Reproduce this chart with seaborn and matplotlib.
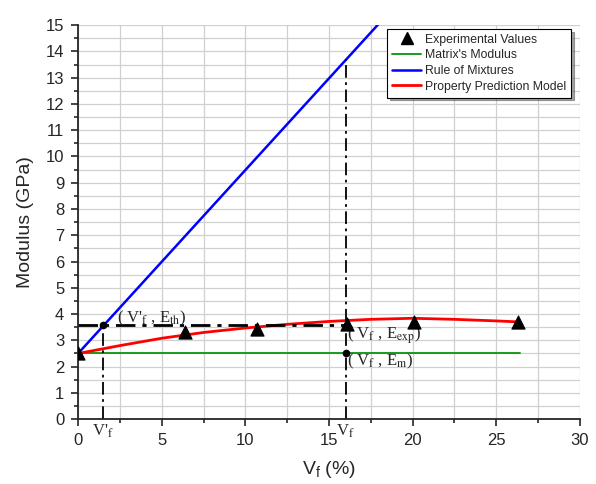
"""
Modulus vs fibre volume fraction: experiment, rule of mixtures and prediction model
"""
# %% IMPORT LIBRARIES
import numpy as np
import pandas as pd
import matplotlib
matplotlib.use("Agg")
import matplotlib.pyplot as plt
from matplotlib.lines import Line2D
from matplotlib.ticker import MultipleLocator
import seaborn as sns

sns.set_style("ticks")
plt.rcParams['font.family'] = ['Liberation Sans', 'DejaVu Sans']
plt.rcParams['mathtext.fontset'] = 'custom'
plt.rcParams['mathtext.rm'] = 'Liberation Sans'
plt.rcParams['mathtext.it'] = 'Liberation Sans:italic'

# %% DATA
# experimental values
vf_exp = [0, 6.4, 10.7, 16.1, 20.1, 26.3]
e_exp = [2.5, 3.3, 3.42, 3.62, 3.7, 3.7]

# matrix modulus
vf_matrix = [0, 26.4]
e_matrix = [2.5, 2.5]

# rule of mixtures
vf_rom = [0, 17.9, 20]
e_rom = [2.5, 15.0, 16.47]

# property prediction model
vf_model = [0, 2.5, 5, 7.5, 10, 12.5, 15, 17.5, 20, 22.5, 25, 26.4]
e_model = [2.5, 2.8, 3.08, 3.3, 3.47, 3.61, 3.72, 3.8, 3.84, 3.8, 3.74, 3.7]

# reference points
vf_prime = 1.5
e_th = 3.58
vf_ref = 16.0
e_m = 2.5
e_top = 13.7

# %% PLOT
fig = plt.figure(figsize=(5.96, 4.84), dpi=100)
ax = fig.add_axes([0.131, 0.134, 0.842, 0.814])

sns.lineplot(x=vf_matrix, y=e_matrix, color="#1a9a1a", lw=1.4, ax=ax)
sns.lineplot(x=vf_rom, y=e_rom, color="#0000ff", lw=1.8, ax=ax)
sns.lineplot(x=vf_model, y=e_model, color="#ff0000", lw=2, ax=ax)

# dash-dot guide lines
ax.plot([0, vf_ref], [e_th, e_th], color="black", lw=2,
        dashes=(7, 2.5, 1.5, 2.5))
ax.plot([vf_prime, vf_prime], [0, e_th], color="black", lw=1.3,
        dashes=(7, 2.5, 1.5, 2.5))
ax.plot([vf_ref, vf_ref], [0, e_top], color="black", lw=1.3,
        dashes=(7, 2.5, 1.5, 2.5))
ax.plot([vf_prime, vf_ref], [e_th, e_m], "o", color="black", ms=4.5, ls="none")

sns.scatterplot(x=vf_exp, y=e_exp, marker="^", s=90, color="black",
                edgecolor="black", zorder=5, ax=ax)

# annotations
serif = dict(family=['Liberation Serif', 'DejaVu Serif'], fontsize=12,
             math_fontfamily='stix')
ax.text(vf_prime + 0.8, e_th + 0.1, r"( V'$_\mathrm{f}$ , E$_\mathrm{th}$)", **serif)
ax.text(vf_ref + 0.1, e_th - 0.5, r"( V$_\mathrm{f}$ , E$_\mathrm{exp}$)", **serif)
ax.text(vf_ref + 0.1, e_m - 0.47, r"( V$_\mathrm{f}$ , E$_\mathrm{m}$)", **serif)
ax.text(vf_prime, -0.15, r"V'$_\mathrm{f}$", ha="center", va="top", **serif)
ax.text(vf_ref, -0.15, r"V$_\mathrm{f}$", ha="center", va="top", **serif)

ax.set_xlim(0, 30)
ax.set_ylim(0, 15)
ax.xaxis.set_major_locator(MultipleLocator(5))
ax.xaxis.set_minor_locator(MultipleLocator(2.5))
ax.yaxis.set_major_locator(MultipleLocator(1))
ax.yaxis.set_minor_locator(MultipleLocator(0.5))
ax.grid(True, which="both", color="#d0d0d0", lw=0.9)
ax.set_axisbelow(True)
ax.tick_params(which="major", length=5, width=1.2, labelsize=12, pad=5)
ax.tick_params(which="minor", length=3, width=1.2)
sns.despine(ax=ax)
for s in ["left", "bottom"]:
    ax.spines[s].set_linewidth(1.3)

ax.set_xlabel(r"V$_\mathrm{f}$ (%)", fontsize=14, labelpad=8)
ax.set_ylabel("Modulus (GPa)", fontsize=14, labelpad=8)

handles = [
    Line2D([], [], marker="^", color="black", ls="none", ms=8),
    Line2D([], [], color="#1a9a1a", lw=1.4),
    Line2D([], [], color="#0000ff", lw=1.8),
    Line2D([], [], color="#ff0000", lw=2),
]
labels = ["Experimental Values", "Matrix's Modulus", "Rule of Mixtures",
          "Property Prediction Model"]
leg = ax.legend(handles, labels, loc="upper right", bbox_to_anchor=(0.99, 1.0),
                fontsize=8.8, frameon=True, fancybox=False, shadow=True,
                framealpha=1, edgecolor="black", handlelength=2.4,
                borderpad=0.4, labelspacing=0.3, handletextpad=0.3,
                borderaxespad=0.3)
leg.get_frame().set_linewidth(0.8)

plt.savefig("out.png", dpi=100)
